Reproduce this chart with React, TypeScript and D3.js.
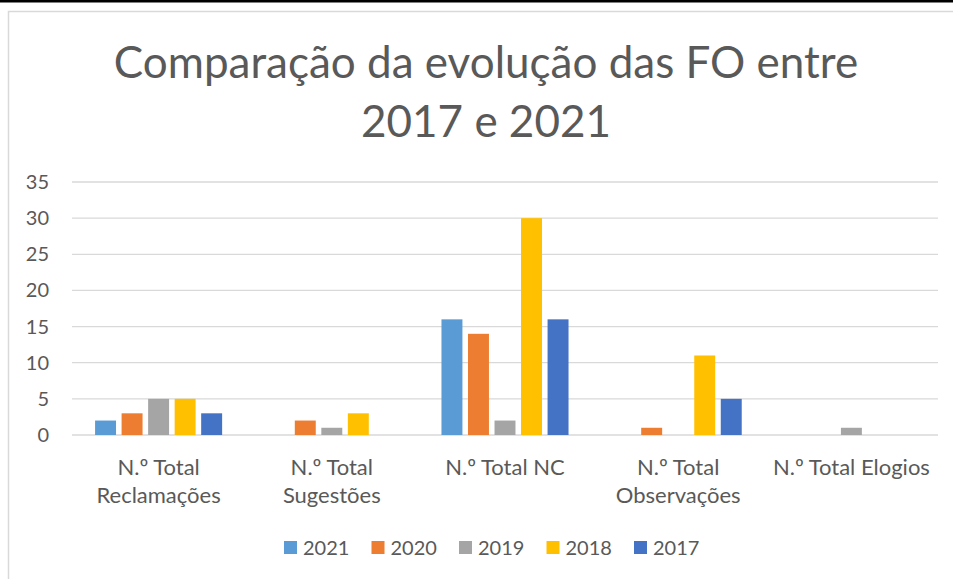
import React, { useRef, useEffect } from 'react';
import * as d3 from 'd3';

const categories = [
  ['N.º Total', 'Reclamações'],
  ['N.º Total', 'Sugestões'],
  ['N.º Total NC'],
  ['N.º Total', 'Observações'],
  ['N.º Total Elogios'],
];
const years = ['2021', '2020', '2019', '2018', '2017'];
const values2021 = [2, 0, 16, 0, 0];
const values2020 = [3, 2, 14, 1, 0];
const values2019 = [5, 1, 2, 0, 1];
const values2018 = [5, 3, 30, 11, 0];
const values2017 = [3, 0, 16, 5, 0];
const yTicks = [0, 5, 10, 15, 20, 25, 30, 35];
const colors = ['#5B9BD5', '#ED7D31', '#A5A5A5', '#FFC000', '#4472C4'];

const App = () => {
  const svgRef = useRef<SVGSVGElement>(null);

  useEffect(() => {
    const W = 953;
    const H = 579;
    const font = 'Lato, "Open Sans", sans-serif';
    const textColor = '#595959';
    const series = [values2021, values2020, values2019, values2018, values2017];

    const svg = d3.select(svgRef.current);
    svg.selectAll('*').remove();
    svg.attr('width', W).attr('height', H);

    // background and frame
    svg.append('rect').attr('width', W).attr('height', H).attr('fill', 'white');
    svg.append('rect').attr('x', 0).attr('y', 0).attr('width', W).attr('height', 2.5).attr('fill', '#000');
    svg.append('path')
      .attr('d', `M8.5,${H} V11.5 H${W}`)
      .attr('fill', 'none')
      .attr('stroke', '#D9D9D9')
      .attr('stroke-width', 1.5);

    // title
    const title = svg.append('text')
      .attr('text-anchor', 'middle')
      .attr('fill', textColor)
      .style('font-family', font)
      .style('font-size', '44px');
    title.append('tspan').attr('x', 486).attr('y', 78).text('Comparação da evolução das FO entre');
    title.append('tspan').attr('x', 486).attr('y', 137).text('2017 e 2021');

    const x0 = d3.scaleBand<number>()
      .domain(d3.range(categories.length))
      .range([72, 938])
      .padding(0);

    const x1 = d3.scaleBand<string>()
      .domain(years)
      .range([0, x0.bandwidth()])
      .paddingInner(0.21)
      .paddingOuter(0.87);

    const y = d3.scaleLinear().domain([0, 35]).range([435, 182]);

    // gridlines
    svg.append('g')
      .selectAll('line')
      .data(yTicks)
      .enter()
      .append('line')
      .attr('x1', 72)
      .attr('x2', 938)
      .attr('y1', d => y(d))
      .attr('y2', d => y(d))
      .attr('stroke', '#D9D9D9')
      .attr('stroke-width', 1.3);

    // y tick labels
    svg.append('g')
      .selectAll('text')
      .data(yTicks)
      .enter()
      .append('text')
      .attr('x', 49)
      .attr('y', d => y(d))
      .attr('dy', '0.35em')
      .attr('text-anchor', 'end')
      .attr('fill', textColor)
      .style('font-family', font)
      .style('font-size', '20px')
      .text(d => d);

    // bars
    years.forEach((yr, si) => {
      svg.append('g')
        .selectAll('rect')
        .data(series[si])
        .enter()
        .append('rect')
        .attr('x', (d, i) => (x0(i) as number) + (x1(yr) as number))
        .attr('y', d => y(d))
        .attr('width', x1.bandwidth())
        .attr('height', d => y(0) - y(d))
        .attr('fill', colors[si]);
    });

    // category labels
    categories.forEach((lines, i) => {
      const t = svg.append('text')
        .attr('text-anchor', 'middle')
        .attr('fill', textColor)
        .style('font-family', font)
        .style('font-size', '22px');
      lines.forEach((ln, li) => {
        t.append('tspan')
          .attr('x', (x0(i) as number) + x0.bandwidth() / 2)
          .attr('y', 475 + li * 28)
          .text(ln);
      });
    });

    // legend
    const legend = svg.append('g');
    years.forEach((yr, i) => {
      const lx = 284 + i * 87.5;
      legend.append('rect')
        .attr('x', lx)
        .attr('y', 541)
        .attr('width', 13)
        .attr('height', 13)
        .attr('fill', colors[i]);
      legend.append('text')
        .attr('x', lx + 19)
        .attr('y', 555)
        .attr('fill', textColor)
        .style('font-family', font)
        .style('font-size', '20px')
        .text(yr);
    });
  }, []);

  return (
    <div style={{ position: 'absolute', left: 0, top: 0 }}>
      <svg ref={svgRef}></svg>
    </div>
  );
};

export default App;
